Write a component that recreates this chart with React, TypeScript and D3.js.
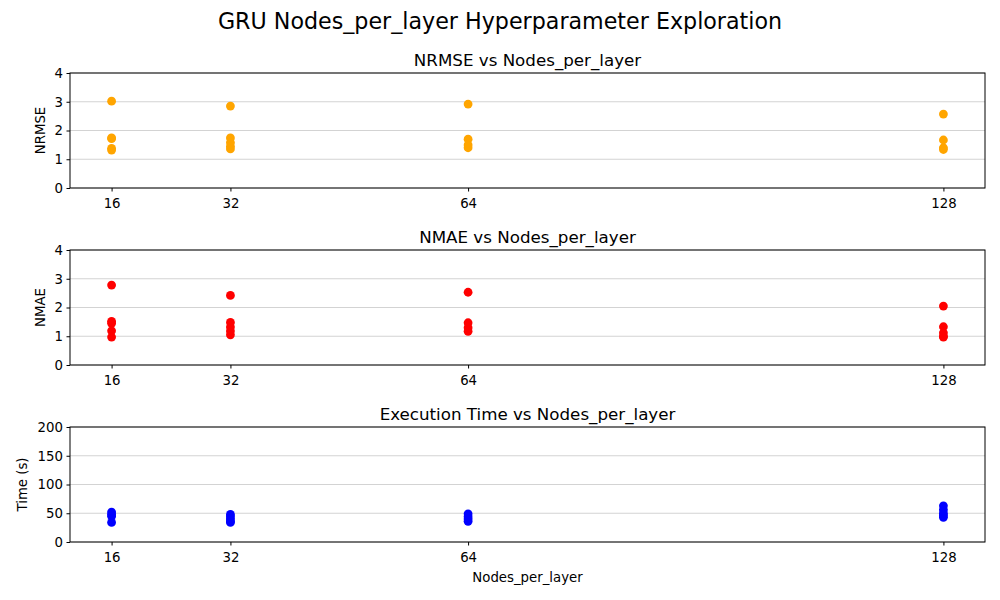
import { useEffect, useRef } from "react"
import * as d3 from "d3"

// values
const nodes = [16, 32, 64, 128]
const nrmse = [
  [3.02, 1.74, 1.72, 1.38, 1.32],
  [2.85, 1.74, 1.58, 1.45, 1.36],
  [2.92, 1.7, 1.5, 1.4],
  [2.57, 1.67, 1.4, 1.34],
]
const nmae = [
  [2.78, 1.52, 1.45, 1.19, 0.97],
  [2.42, 1.48, 1.32, 1.18, 1.05],
  [2.53, 1.47, 1.3, 1.17],
  [2.05, 1.33, 1.12, 1.0, 0.97],
]
const execTime = [
  [52, 48, 45, 34],
  [48, 44, 40, 36, 34],
  [49, 44, 40, 36],
  [63, 56, 50, 46, 43],
]

const panels = [
  { title: "NRMSE vs Nodes_per_layer", ylabel: "NRMSE", values: nrmse, color: "orange", ymax: 4, yticks: [0, 1, 2, 3, 4], top: 73 },
  { title: "NMAE vs Nodes_per_layer", ylabel: "NMAE", values: nmae, color: "red", ymax: 4, yticks: [0, 1, 2, 3, 4], top: 250 },
  { title: "Execution Time vs Nodes_per_layer", ylabel: "Time (s)", values: execTime, color: "blue", ymax: 200, yticks: [0, 50, 100, 150, 200], top: 427 },
]

const W = 1000
const H = 600
const left = 70
const right = 985
const ph = 115
const font = "DejaVu Sans, sans-serif"

export default function App() {
  const svgRef = useRef<SVGSVGElement>(null)

  useEffect(() => {
    if (!svgRef.current) return
    const svg = d3.select(svgRef.current)
    svg.selectAll("*").remove()

    svg.append("rect").attr("width", W).attr("height", H).attr("fill", "white")

    svg.append("text")
      .attr("x", W / 2).attr("y", 21)
      .attr("text-anchor", "middle").attr("dominant-baseline", "central")
      .attr("font-family", font).attr("font-size", 22.2)
      .text("GRU Nodes_per_layer Hyperparameter Exploration")

    const x = d3.scaleLinear().domain([10.4, 133.6]).range([left, right])

    panels.forEach((p, pi) => {
      const y = d3.scaleLinear().domain([0, p.ymax]).range([p.top + ph, p.top])
      const g = svg.append("g")

      // grid
      g.selectAll(".grid")
        .data(p.yticks)
        .enter().append("line")
        .attr("x1", left).attr("x2", right)
        .attr("y1", d => y(d)).attr("y2", d => y(d))
        .attr("stroke", "#d3d3d3").attr("stroke-width", 1)

      // points
      const pts = p.values.flatMap((vs, i) => vs.map(v => ({ n: nodes[i], v })))
      g.selectAll(".dot")
        .data(pts)
        .enter().append("circle")
        .attr("cx", d => x(d.n))
        .attr("cy", d => y(d.v))
        .attr("r", 4.4)
        .attr("fill", p.color)

      // frame
      g.append("rect")
        .attr("x", left).attr("y", p.top)
        .attr("width", right - left).attr("height", ph)
        .attr("fill", "none").attr("stroke", "black").attr("stroke-width", 1)

      // x axis
      const xa = g.append("g")
        .attr("transform", `translate(0,${p.top + ph})`)
        .call(d3.axisBottom(x).tickValues(nodes).tickSize(3.5).tickPadding(7).tickFormat(d3.format("d")))
      xa.select(".domain").remove()
      xa.selectAll("text").attr("font-family", font).attr("font-size", 13.3).attr("fill", "black")

      // y axis
      const ya = g.append("g")
        .attr("transform", `translate(${left},0)`)
        .call(d3.axisLeft(y).tickValues(p.yticks).tickSize(3.5).tickPadding(3.5).tickFormat(d3.format("d")))
      ya.select(".domain").remove()
      ya.selectAll("text").attr("font-family", font).attr("font-size", 13.3).attr("fill", "black")

      // title
      g.append("text")
        .attr("x", (left + right) / 2).attr("y", p.top - 7)
        .attr("text-anchor", "middle")
        .attr("font-family", font).attr("font-size", 16.7)
        .text(p.title)

      // y label
      const lx = pi === 2 ? 22 : 40
      g.append("text")
        .attr("transform", `translate(${lx},${p.top + ph / 2}) rotate(-90)`)
        .attr("text-anchor", "middle").attr("dominant-baseline", "central")
        .attr("font-family", font).attr("font-size", 13.3)
        .text(p.ylabel)
    })

    svg.append("text")
      .attr("x", (left + right) / 2).attr("y", 577)
      .attr("text-anchor", "middle").attr("dominant-baseline", "central")
      .attr("font-family", font).attr("font-size", 13.3)
      .text("Nodes_per_layer")
  }, [])

  return (
    <div style={{ position: "absolute", left: 0, top: 0 }}>
      <svg ref={svgRef} width={W} height={H} />
    </div>
  )
}
